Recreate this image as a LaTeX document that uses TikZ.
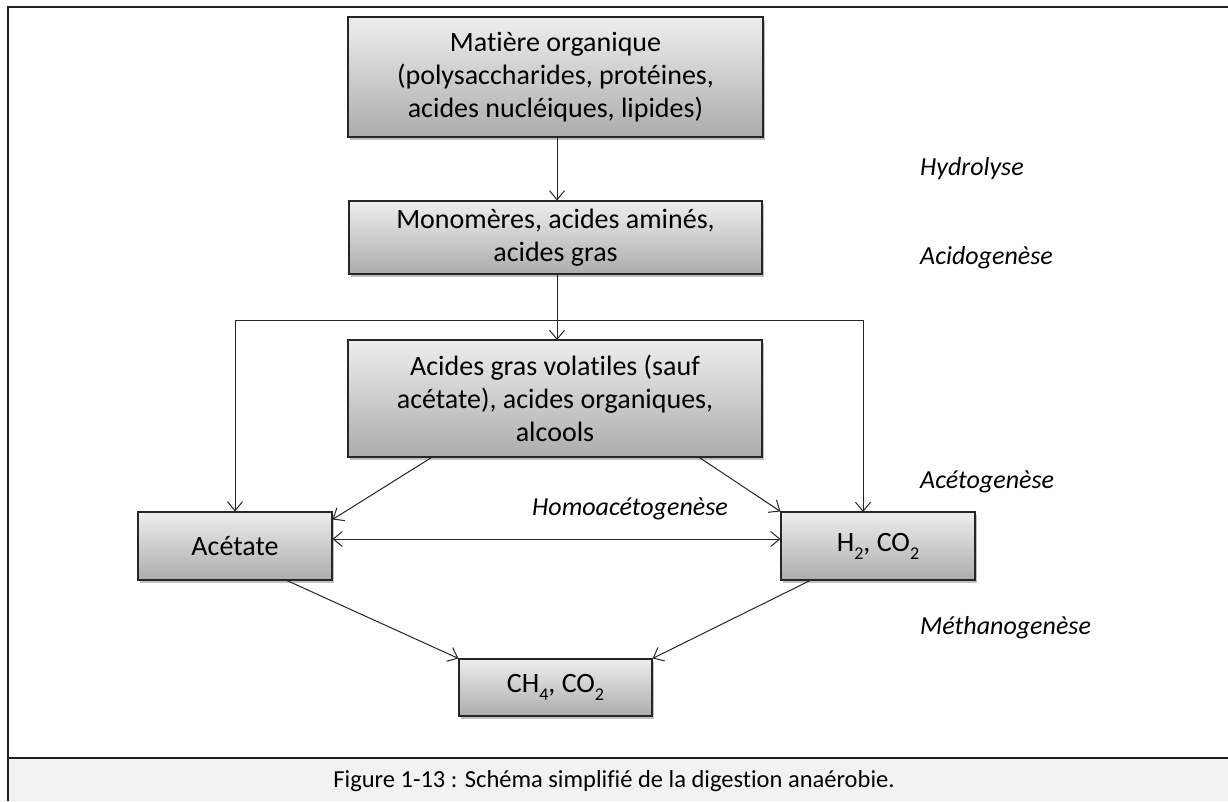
\documentclass[tikz,border=0pt]{standalone}
\usepackage{fontspec}
\setmainfont{Carlito}[Ligatures=NoCommon]
\usetikzlibrary{arrows.meta,calc,shadows}
\newcommand\mysub[1]{\raisebox{-0.28em}{\fontsize{18}{18}\selectfont #1}}
\newcommand\nolig{\kern0pt}
\definecolor{frame}{HTML}{231F20}
\definecolor{boxtop}{HTML}{EEEEEE}
\definecolor{boxbot}{HTML}{ACACAC}
\definecolor{capfill}{HTML}{F2F2F2}
\tikzset{
  stagebox/.style={draw=black!85, line width=1.1pt, top color=boxtop, bottom color=boxbot,
    align=center, inner sep=0pt, font=\fontsize{28}{33}\selectfont,
    drop shadow={shadow xshift=2pt, shadow yshift=-3pt, opacity=0.25, fill=black}},
  steplabel/.style={anchor=west, inner sep=0pt, font=\fontsize{26}{30}\selectfont\itshape},
  conn/.style={draw=black!85, line width=1pt},
  arr/.style={conn, -{Straight Barb[length=9pt,width=15pt,line width=1pt]}},
  darr/.style={conn, {Straight Barb[length=9pt,width=15pt,line width=1pt]}-{Straight Barb[length=9pt,width=15pt,line width=1pt]}}
}
\begin{document}
\begin{tikzpicture}[x=1pt,y=-1pt]
\useasboundingbox (0,0) rectangle (1228,801);
\fill[white] (0,0) rectangle (1228,801);
% caption band and frame
\fill[capfill] (8,758) rectangle (1228,801);
\draw[frame, line width=2pt] (1228,7) -- (8,7) -- (8,801);
\draw[frame, line width=2pt] (8,758) -- (1228,758);
\node[inner sep=0pt, font=\fontsize{24.5}{28}\selectfont] (cap) at (614,781) {Figure 1-13 : Schéma simplifié de la digest\nolig ion anaérobie.};

% boxes
\node[stagebox, minimum width=415pt, minimum height=120pt] (b1) at (555.5,77) {Matière organique\\(polysaccharides, protéines,\\acides nucléiques, lipides)};
\node[stagebox, minimum width=413pt, minimum height=73pt] (b2) at (555.5,237.5) {Monomères, acides aminés,\\acides gras};
\node[stagebox, minimum width=414pt, minimum height=117pt] (b3) at (555,398.5) {Acides gras volat\nolig iles (sauf\\acétate), acides organiques,\\alcools};
\node[stagebox, minimum width=194pt, minimum height=68pt] (ac) at (235,546) {Acétate};
\node[stagebox, minimum width=194pt, minimum height=68pt] (h2) at (878,546) {H\mysub{2}, CO\mysub{2}};
\node[stagebox, minimum width=193pt, minimum height=57pt] (ch4) at (555.5,687.5) {CH\mysub{4}, CO\mysub{2}};

% labels
\node[steplabel] (lh) at (920,169) {Hydrolyse};
\node[steplabel] (la) at (920,258) {Acidogenèse};
\node[steplabel] (le) at (920,482) {Acétogenèse};
\node[steplabel] (lm) at (920,628) {Méthanogenèse};
\node[inner sep=0pt, font=\fontsize{26}{30}\selectfont\itshape] (lho) at (630,509) {Homoacétogenèse};

% connectors
\coordinate (J) at (557,320);
\coordinate (R) at (863,512);
\coordinate (b2s) at (557,274);
\coordinate (b3n) at (557,340);
\draw[arr] (b1.south -| J) -- (b2.north -| J);
\draw[conn] (b2s) -- (J);
\draw[arr] (J) -- (b3n);
\draw[arr] (J) -| (ac.north);
\draw[arr] (J) -| (R);
\draw[arr] ($(b3.south west)+(84,0)$) -- ($(ac.north east)+(0,8)$);
\draw[arr] ($(b3.south west)+(352,0)$) -- (h2.north west);
\draw[darr] ($(ac.east)+(0,-7)$) -- ($(h2.west)+(0,-7)$);
\draw[arr] ($(ac.south)+(52,0)$) -- (ch4.north west);
\draw[arr] ($(h2.south)+(-68,0)$) -- (ch4.north east);
\end{tikzpicture}
\end{document}
